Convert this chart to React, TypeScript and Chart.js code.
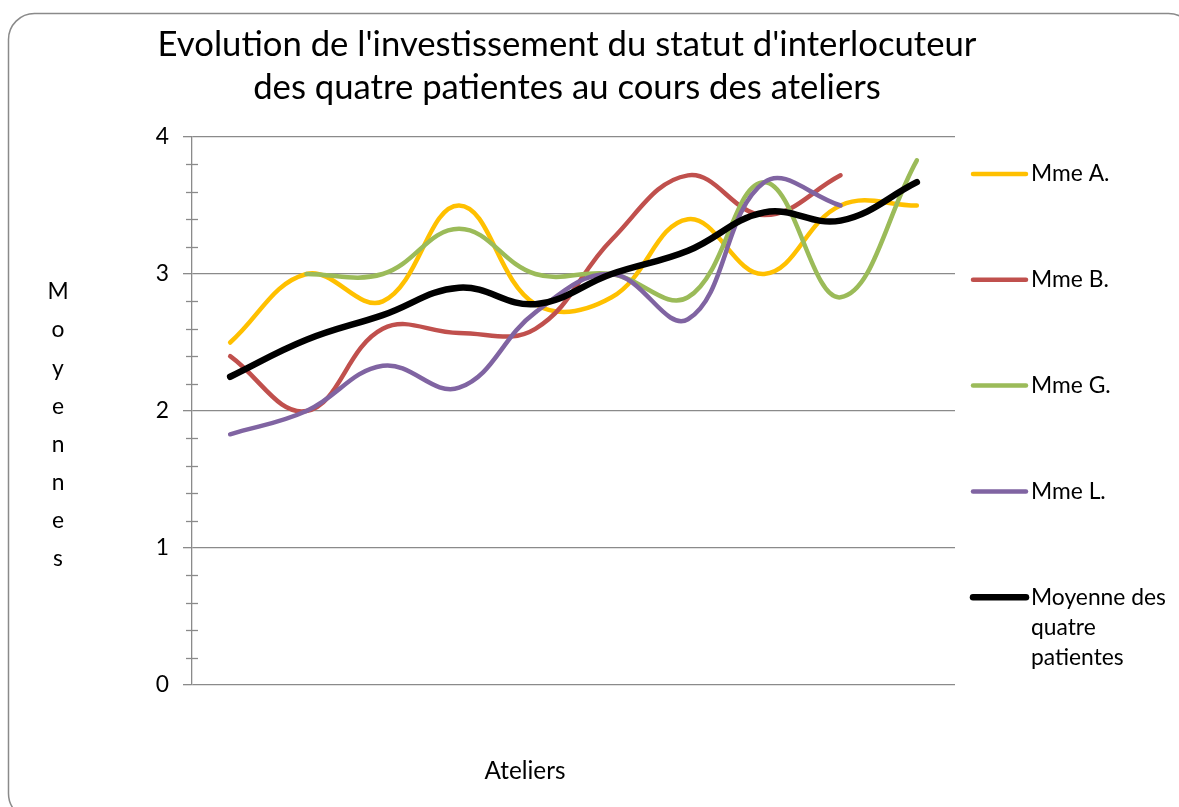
import React, { useEffect, useRef } from 'react';
import { Chart, registerables } from 'chart.js';

Chart.register(...registerables);

// ---- Data ----
const ateliers = ['1', '2', '3', '4', '5', '6', '7', '8', '9', '10'];
const mmeA = [2.5, 3.0, 2.8, 3.5, 2.78, 2.83, 3.4, 3.0, 3.5, 3.5];
const mmeB = [2.4, 2.0, 2.6, 2.57, 2.6, 3.25, 3.72, 3.43, 3.72, null];
const mmeG = [null, 3.0, 3.0, 3.33, 3.0, 3.0, 2.83, 3.67, 2.83, 3.83];
const mmeL = [1.83, 2.0, 2.33, 2.17, 2.72, 3.0, 2.67, 3.67, 3.5, null];
const moyenne = [2.25, 2.52, 2.7, 2.9, 2.78, 3.0, 3.17, 3.45, 3.39, 3.67];
const seriesLabels = ['Mme A.', 'Mme B.', 'Mme G.', 'Mme L.', 'Moyenne des quatre patientes'];
const seriesColors = ['#FFC000', '#C0504D', '#9BBB59', '#8064A2', '#000000'];
const titleLines = ["Evolution de l'investissement du statut d'interlocuteur", 'des quatre patientes au cours des ateliers'];
const yTitle = 'Moyennes';
const xTitle = 'Ateliers';
const yMin = 0;
const yMax = 4;
const yMinorStep = 0.2;

const FONT = 'Lato, "Open Sans", sans-serif';
const GRID = '#8a8a8a';

function fitSize(text: string, target: number): number {
  const c = document.createElement('canvas');
  const ctx = c.getContext('2d')!;
  ctx.font = `100px ${FONT}`;
  const w = ctx.measureText(text).width;
  return (100 * target) / w;
}

const isMajor = (v: number) => Math.abs(v - Math.round(v)) < 1e-6;

export default function App() {
  const ref = useRef<HTMLCanvasElement | null>(null);

  useEffect(() => {
    if (!ref.current) return;
    const titleSize = fitSize(titleLines[0], 819);
    const bodySize = fitSize('Moyenne des', 135);
    const xTitleSize = fitSize(xTitle, 81);

    const textPlugin = {
      id: 'customText',
      beforeDraw(chart: any) {
        const ctx = chart.ctx;
        ctx.save();
        ctx.fillStyle = '#ffffff';
        ctx.fillRect(0, 0, chart.width, chart.height);
        ctx.strokeStyle = GRID;
        ctx.lineWidth = 1.5;
        ctx.beginPath();
        (ctx as any).roundRect(8.5, 13.5, 1186, 806, 26);
        ctx.stroke();
        ctx.restore();
      },
      afterDraw(chart: any) {
        const ctx = chart.ctx;
        const area = chart.chartArea;
        const yScale = chart.scales.y;
        ctx.save();
        // minor ticks crossing the axis
        ctx.strokeStyle = GRID;
        ctx.lineWidth = 1.3;
        for (let v = yMin; v <= yMax + 1e-9; v += yMinorStep) {
          if (isMajor(v)) continue;
          const py = Math.round(yScale.getPixelForValue(v)) + 0.5;
          ctx.beginPath();
          ctx.moveTo(area.left - 6, py);
          ctx.lineTo(area.left + 6, py);
          ctx.stroke();
        }
        // title
        ctx.fillStyle = '#000';
        ctx.textAlign = 'center';
        ctx.textBaseline = 'middle';
        ctx.font = `${titleSize}px ${FONT}`;
        const cx = 567;
        titleLines.forEach((l, i) => ctx.fillText(l, cx, 45 + i * 43));
        // y title stacked letters
        ctx.font = `${bodySize}px ${FONT}`;
        yTitle.split('').forEach((ch, i) => ctx.fillText(ch, 58, 292 + i * 38.1));
        // x title
        ctx.font = `${xTitleSize}px ${FONT}`;
        ctx.fillText(xTitle, 525, 771);
        // legend
        ctx.font = `${bodySize}px ${FONT}`;
        ctx.textAlign = 'left';
        chart.data.datasets.forEach((ds: any, i: number) => {
          const ly = 174 + i * 105.8;
          ctx.strokeStyle = ds.borderColor;
          ctx.lineWidth = ds.borderWidth;
          ctx.lineCap = 'round';
          ctx.beginPath();
          ctx.moveTo(973, ly);
          ctx.lineTo(1026, ly);
          ctx.stroke();
          ctx.fillStyle = '#000';
          // word wrap
          const words = String(ds.label).split(' ');
          const lines: string[] = [];
          let cur = '';
          words.forEach((w) => {
            const t = cur ? cur + ' ' + w : w;
            if (ctx.measureText(t).width > 142 && cur) {
              lines.push(cur);
              cur = w;
            } else cur = t;
          });
          lines.push(cur);
          lines.forEach((l, j) => ctx.fillText(l, 1031, ly + j * 30));
        });
        ctx.restore();
      },
    };

    const mk = (i: number, data: (number | null)[], width: number, order: number) => ({
      label: seriesLabels[i],
      data,
      borderColor: seriesColors[i],
      backgroundColor: seriesColors[i],
      borderWidth: width,
      pointRadius: 0,
      pointHoverRadius: 0,
      tension: 0.4,
      fill: false,
      spanGaps: false,
      borderCapStyle: 'round' as const,
      borderJoinStyle: 'round' as const,
      order,
    });

    const chart = new Chart(ref.current, {
      type: 'line',
      data: {
        labels: ateliers,
        datasets: [
          mk(0, mmeA, 4.5, 5),
          mk(1, mmeB, 4.5, 4),
          mk(2, mmeG, 4.5, 3),
          mk(3, mmeL, 4.5, 2),
          mk(4, moyenne, 6.5, 1),
        ],
      },
      options: {
        animation: false,
        responsive: false,
        devicePixelRatio: 1,
        layout: { padding: { left: 0, top: 137, right: 224, bottom: 0 } },
        plugins: {
          legend: { display: false },
          title: { display: false },
          tooltip: { enabled: false },
        },
        scales: {
          x: {
            type: 'category',
            offset: true,
            grid: { display: false },
            border: { display: false },
            ticks: { display: false },
            afterFit: (s: any) => {
              s.height = 122;
            },
          },
          y: {
            min: yMin,
            max: yMax,
            ticks: {
              stepSize: yMinorStep,
              autoSkip: false,
              color: '#000',
              padding: 14,
              font: { family: FONT, size: bodySize },
              callback: (v: any) => (isMajor(Number(v)) ? String(Math.round(Number(v))) : ''),
            },
            grid: {
              color: (c: any) => (c.tick && isMajor(c.tick.value) ? GRID : 'rgba(0,0,0,0)'),
              tickColor: (c: any) => (c.tick && isMajor(c.tick.value) ? GRID : 'rgba(0,0,0,0)'),
              tickLength: 9,
              lineWidth: 1.3,
            },
            border: { color: GRID, width: 1.3 },
            afterFit: (s: any) => {
              s.width = 192;
            },
          },
        },
      },
      plugins: [textPlugin],
    } as any);

    return () => chart.destroy();
  }, []);

  return (
    <div style={{ position: 'absolute', left: 0, top: 0, width: 1179, height: 807, overflow: 'hidden', background: '#fff' }}>
      <canvas ref={ref} width={1179} height={807} style={{ display: 'block', width: 1179, height: 807 }} />
    </div>
  );
}
